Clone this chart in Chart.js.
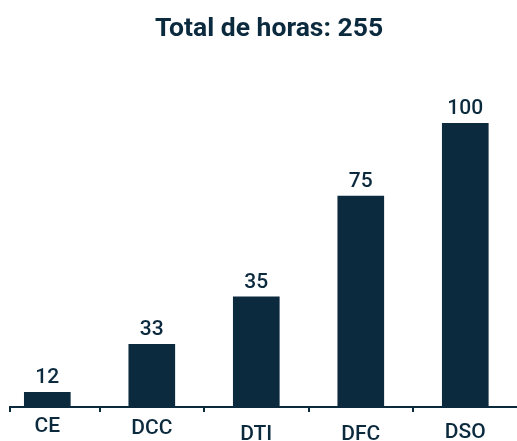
<!DOCTYPE html>
<html>
<head>
<meta charset="utf-8">
<script src="https://cdn.jsdelivr.net/npm/chart.js@4/dist/chart.umd.min.js"></script>
<style>
html,body{margin:0;padding:0;background:#fff;}
#wrap{width:517px;height:441px;}
</style>
</head>
<body>
<div id="wrap"><canvas id="c" width="517" height="441"></canvas></div>
<script>
// Data
const categories = ['CE', 'DCC', 'DTI', 'DFC', 'DSO'];
const hourLabels = [12, 33, 35, 75, 100];          // values printed above the bars
const barHeights = [5.2, 22.1, 38.8, 74.3, 100];    // bar heights as drawn in the picture (not to scale with labels)
const titleText = 'Total de horas: ' + hourLabels.reduce((a, b) => a + b, 0);

const NAVY = '#0c2a3e';
const FAMILY = 'Roboto, "Noto Sans", sans-serif';
const labelLineHeights = [1.048, 1.257, 1.752, 1.752, 1.629]; // staggered label placement

const valueLabels = {
  id: 'valueLabels',
  afterDatasetsDraw(chart) {
    const ctx = chart.ctx;
    const meta = chart.getDatasetMeta(0);
    ctx.save();
    ctx.fillStyle = NAVY;
    ctx.font = '500 21px ' + FAMILY;
    ctx.textAlign = 'center';
    ctx.textBaseline = 'alphabetic';
    meta.data.forEach((bar, i) => {
      ctx.fillText(String(hourLabels[i]), bar.x, bar.y - 9);
    });
    ctx.restore();
  }
};

// nudge the title block slightly right, as in the reference
const titleShift = {
  id: 'titleShift',
  afterLayout(chart) {
    if (chart.titleBlock) {
      chart.titleBlock.left += 5.5;
      chart.titleBlock.right += 5.5;
    }
  }
};

const xMin = -0.357, xMax = 4.495;

new Chart(document.getElementById('c'), {
  type: 'bar',
  data: {
    datasets: [{
      data: categories.map((c, i) => ({x: i, y: barHeights[i]})),
      backgroundColor: NAVY,
      borderWidth: 0,
      barThickness: 46
    }]
  },
  options: {
    responsive: false,
    animation: false,
    layout: {padding: {left: 10, right: 0, top: 0, bottom: 0}},
    plugins: {
      legend: {display: false},
      tooltip: {enabled: false},
      title: {
        display: true,
        text: titleText,
        color: NAVY,
        font: {family: FAMILY, size: 26.5, weight: 'bold', lineHeight: 1.2},
        padding: {top: 13.35, bottom: 77.85}
      }
    },
    scales: {
      x: {
        type: 'linear',
        offset: false,
        min: xMin,
        max: xMax,
        afterBuildTicks(scale) {
          const t = [{value: xMin}];
          categories.forEach((c, i) => {
            t.push({value: i});
            if (i + 0.5 < xMax) t.push({value: i + 0.5});
          });
          scale.ticks = t;
        },
        afterFit(scale) { scale.height = 34; },
        border: {display: true, color: NAVY, width: 2},
        grid: {
          offset: false,
          drawOnChartArea: false,
          drawTicks: true,
          tickLength: 5,
          lineWidth: 2,
          color: (ctx) => (ctx.tick && Number.isInteger(ctx.tick.value)) ? 'rgba(0,0,0,0)' : NAVY
        },
        ticks: {
          autoSkip: false,
          maxRotation: 0,
          minRotation: 0,
          padding: 4,
          color: NAVY,
          font: (ctx) => {
            let lh = 1.2;
            if (ctx.tick && Number.isInteger(ctx.tick.value)) lh = labelLineHeights[ctx.tick.value];
            return {family: FAMILY, size: 21, weight: '500', lineHeight: lh};
          },
          callback: (v) => Number.isInteger(v) && categories[v] !== undefined ? categories[v] : ''
        }
      },
      y: {
        display: false,
        min: 0,
        max: 100
      }
    }
  },
  plugins: [valueLabels, titleShift]
});
</script>
</body>
</html>
